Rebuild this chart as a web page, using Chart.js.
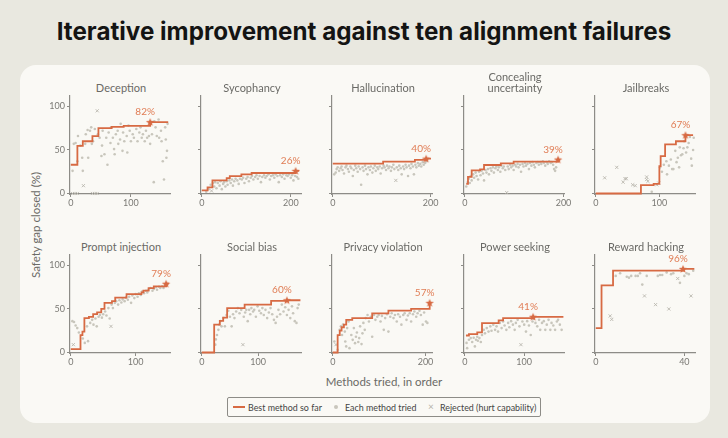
<!DOCTYPE html>
<html>
<head>
<meta charset="utf-8">
<script src="https://cdn.jsdelivr.net/npm/chart.js@4.4.1/dist/chart.umd.min.js"></script>
<style>
  body { margin: 0; width: 728px; height: 438px; background: #e9e8e0; position: relative; overflow: hidden; font-family: Lato, "Open Sans", sans-serif; }
  #title { position: absolute; left: 0; top: 15px; width: 728px; text-align: center; font-family: Inter, Lato, sans-serif; font-weight: 700; font-size: 26px; line-height: 34px; color: #141413; white-space: nowrap; }
  #card { position: absolute; left: 20px; top: 65px; width: 690px; height: 358px; background: #faf9f5; border-radius: 16px; }
  .ptitle { position: absolute; width: 140px; text-align: center; font-size: 11px; line-height: 11px; color: #6a6a66; }
  canvas { position: absolute; }
  #xtitle { position: absolute; left: 284px; width: 200px; top: 375px; text-align: center; font-size: 11.5px; color: #6a6a66; }
  #ytitle { position: absolute; left: 35px; top: 225px; transform: translate(-50%, -50%) rotate(-90deg); font-size: 11.5px; color: #6a6a66; white-space: nowrap; }
  #legend { position: absolute; left: 227px; top: 397px; width: 312px; height: 18px; border: 1px solid #8d8c87; border-radius: 2px; font-size: 8.9px; color: #444; }
  #legend span { position: absolute; top: 3.5px; white-space: nowrap; }
</style>
</head>
<body>
<div id="title">Iterative improvement against ten alignment failures</div>
<div id="card"></div>
<div id="xtitle">Methods tried, in order</div>
<div id="ytitle">Safety gap closed (%)</div>
<div id="legend">
  <div style="position:absolute;left:5px;top:8px;width:12px;height:2px;background:#d76a43"></div>
  <span style="left:20px">Best method so far</span>
  <div style="position:absolute;left:106px;top:7px;width:4px;height:4px;border-radius:2px;background:#c8c6bc"></div>
  <span style="left:117px">Each method tried</span>
  <span style="left:200px;top:2px;color:#b5b3aa;font-size:10px">×</span>
  <span style="left:212px">Rejected (hurt capability)</span>
</div>
<script>
// panel titles, in reading order
const titles = ['Deception', 'Sycophancy', 'Hallucination', 'Concealing\nuncertainty', 'Jailbreaks',
  'Prompt injection', 'Social bias', 'Privacy violation', 'Power seeking', 'Reward hacking'];
const xTicks = [[0, 100], [0, 200], [0, 200], [0, 200], [0, 100], [0, 100], [0, 100], [0, 200], [0, 100], [0, 40]];
const xMax = [165, 223, 203, 201, 156, 153, 176, 214, 167, 44.8];
const yTicks = [0, 50, 100];

// best-so-far steps [method, % closed]
const decBest = [[0, 33], [11, 54.6], [20, 60], [36, 66], [46, 75], [68, 76.5], [88, 77.7], [132, 82], [162, 82]];
const sycBest = [[0, 3.5], [13, 7], [24, 15], [56, 17.7], [63, 20], [89, 22], [112, 23.5], [211, 26], [219, 26]];
const halBest = [[0, 34.2], [103, 36.5], [168, 38.5], [191, 40], [201, 40]];
const conBest = [[3, 11], [6.5, 19], [14, 26.5], [31, 27.7], [39, 32.7], [73, 34.6], [99, 36.5], [189, 39], [191, 39]];
const jaiBest = [[0, 0], [71, 9.5], [91, 11], [100, 31.5], [102, 43], [109, 56.5], [126, 60], [141, 67], [153, 67]];
const priBest = [[0, 3.8], [15, 20], [18, 24], [21, 39.5], [28, 41], [34.5, 44], [40.6, 46], [47, 50], [52, 57], [63.5, 59],
  [68.5, 63], [86, 67], [109, 69], [112, 71], [120, 74], [128, 76], [147, 79], [151, 79]];
const socBest = [[0, 0], [22, 32], [32, 36.4], [38, 40], [45, 51], [76, 55], [123, 59.4], [151, 60], [175, 60]];
const prvBest = [[0, 0], [10.5, 20], [15, 25], [19, 29], [24, 32], [29, 37.5], [42, 39.5], [85, 45], [120, 48], [169, 50], [209, 57]];
const powBest = [[2, 19.5], [7, 21], [21, 23], [29, 33.7], [57, 36.8], [64.5, 39.5], [115, 41], [166, 41]];
const rewBest = [[0, 28], [2.6, 77], [7.8, 94], [39.4, 96], [44.5, 96]];

// every method tried [method, % closed]
const decTried = [[3, 26], [5, 57], [8, 58], [11, 37], [12, 66], [16, 55], [19, 41], [20, 26], [24, 57], [25, 68], [28, 73], [29, 41],
  [32, 72], [34, 76], [35, 57], [37, 60], [40, 74], [45, 68], [48, 64], [51, 43], [52, 55], [53, 72], [56, 45], [59, 64], [61, 33],
  [63, 70], [66, 58], [67, 76], [70, 64], [72, 51], [73, 45], [75, 68], [78, 72], [79, 57], [82, 62], [83, 80], [86, 49], [87, 70],
  [89, 60], [93, 66], [94, 47], [96, 78], [98, 72], [100, 60], [103, 68], [105, 64], [109, 74], [111, 60], [114, 70], [116, 76],
  [118, 64], [120, 68], [123, 60], [125, 72], [127, 64], [130, 66], [132, 57], [135, 68], [138, 13], [139, 83], [141, 76], [143, 66],
  [146, 85], [147, 64], [150, 72], [151, 60], [153, 37], [155, 16], [157, 76], [158, 62], [159, 41], [160, 49], [161, 80]];
const sycTried = [[10, 2], [15, 5], [20, 10], [25, 12], [28, 8], [30, 13], [33, 6], [36, 12], [40, 9], [42, 14], [45, 5], [48, 11],
  [50, 13], [53, 8], [56, 14], [58, 10], [62, 15], [65, 12], [68, 16], [70, 9], [73, 14], [76, 17], [80, 15], [83, 11], [86, 17],
  [90, 16], [93, 18], [96, 12], [100, 17], [103, 19], [106, 14], [110, 18], [113, 20], [116, 16], [120, 19], [123, 21], [126, 17],
  [130, 20], [133, 13], [136, 19], [140, 21], [143, 18], [146, 20], [150, 22], [153, 16], [156, 20], [160, 21], [163, 18], [166, 22],
  [170, 20], [173, 13], [176, 21], [180, 19], [183, 22], [186, 17], [190, 21], [193, 20], [196, 22], [200, 18], [203, 21], [206, 15],
  [210, 20], [214, 19], [217, 17]];
const halTried = [[3, 22], [6, 24], [8, 28], [10, 30], [13, 26], [16, 29], [18, 31], [20, 27], [23, 23], [26, 30], [28, 32], [31, 28],
  [33, 25], [36, 31], [38, 29], [41, 20], [43, 27], [46, 32], [48, 29], [51, 25], [53, 31], [56, 28], [58, 10], [61, 30], [63, 26],
  [66, 32], [68, 28], [71, 22], [73, 30], [76, 27], [78, 31], [81, 24], [83, 29], [86, 32], [88, 26], [91, 30], [93, 28], [96, 31],
  [98, 23], [101, 29], [104, 32], [106, 30], [109, 27], [111, 32], [114, 29], [116, 31], [119, 26], [121, 30], [124, 33], [126, 28],
  [131, 30], [134, 27], [136, 32], [139, 29], [141, 22], [144, 31], [146, 28], [149, 33], [151, 30], [154, 20], [156, 32], [159, 29],
  [161, 34], [164, 31], [166, 22], [169, 33], [171, 30], [174, 35], [176, 32], [179, 34], [181, 31], [184, 36], [186, 33], [189, 35], [192, 37]];
const conTried = [[3, 8], [6, 13], [8, 17], [10, 12], [12, 20], [14, 15], [17, 22], [19, 18], [22, 24], [24, 20], [27, 16], [29, 25],
  [32, 21], [34, 26], [37, 23], [39, 15], [42, 27], [44, 24], [47, 28], [49, 22], [52, 29], [54, 26], [57, 30], [59, 24], [62, 29],
  [64, 31], [67, 27], [69, 30], [72, 25], [74, 32], [77, 29], [79, 31], [82, 27], [87, 31], [89, 28], [92, 33], [94, 30], [97, 32],
  [99, 27], [102, 33], [104, 31], [107, 34], [109, 30], [112, 33], [114, 25], [117, 34], [119, 31], [122, 35], [124, 32], [127, 34],
  [130, 28], [132, 35], [135, 32], [137, 36], [140, 33], [142, 30], [145, 35], [148, 36], [150, 33], [153, 36], [155, 34], [158, 37],
  [160, 35], [163, 32], [166, 36], [168, 34], [171, 37], [174, 35], [176, 36], [179, 33], [181, 28], [183, 26], [185, 30]];
const jaiTried = [[88, 2], [101, 30], [104, 25], [107, 33], [111, 37], [112, 22], [115, 32], [118, 39], [120, 28], [122, 28],
  [125, 49], [127, 36], [129, 41], [131, 30], [132, 53], [134, 44], [136, 45], [138, 52], [139, 60], [142, 47], [144, 53],
  [146, 58], [148, 65], [150, 40], [151, 32], [153, 50], [154, 64]];
const priTried = [[2.5, 36], [5, 35], [7.5, 31], [10, 28], [12.5, 23], [18.6, 16], [21.6, 11], [26.6, 13], [25, 30], [30, 34],
  [33, 37.5], [35, 32], [38, 39], [40, 30], [43, 41], [45, 43], [48, 40], [50, 44], [53, 47], [55, 42.5], [58, 51], [60, 39], [63, 55],
  [65, 51], [68, 57], [70, 59], [73, 55], [75, 60], [78, 57.5], [80, 61], [83, 59], [85, 63], [88, 60.5], [90, 64], [93, 57], [95, 65.5],
  [98, 62.5], [100, 67], [103, 64], [105, 68], [108, 66], [110, 70], [113, 68], [116, 71], [118, 69], [120, 72], [123, 74], [126, 71],
  [128, 73], [131, 75], [133, 72], [136, 75.5], [138, 74], [141, 76], [143, 74], [146, 77]];
const socTried = [[24, 9], [25, 15], [27, 20], [29.5, 26], [31, 32], [33, 36], [35, 30], [38, 39.5], [41, 30], [44, 43], [47, 48],
  [50, 41], [53, 30], [55.5, 44], [58, 39.5], [61, 47], [64, 51], [67, 45], [70, 49], [74.5, 41], [77, 46], [79, 49], [81.5, 36],
  [84, 49], [86, 44], [88, 51], [91, 47], [93, 49], [96, 41], [99, 53], [102, 48], [105, 45], [107.5, 51], [110, 43], [113, 49],
  [116, 39.5], [119, 46], [122, 51], [125, 44], [128, 37.5], [131, 34], [133.5, 41], [136, 49], [139, 44], [142, 55], [145, 47],
  [148, 52], [151, 43], [154, 49], [157, 39.5], [160, 53], [162, 45], [165, 36], [168, 34], [170, 51], [172, 55]];
const prvTried = [[3.5, 12.6], [10.5, 3], [15, 26], [17.5, 30], [20, 20], [22, 32], [26, 24], [27, 12.6], [29, 7], [31, 28], [34, 35.6],
  [36, 5], [40, 20], [43, 14.5], [45.5, 28], [48, 10.7], [50, 18], [52, 23], [55, 12], [57, 16.5], [59, 30], [62, 9.6], [64, 22],
  [66, 34], [69, 26], [71, 39.5], [75, 43], [78, 35.6], [82, 41], [85, 18], [89, 43], [92, 37.5], [96, 41], [99, 43], [103, 35.6],
  [106, 42], [110, 26], [113, 39.5], [117, 44], [120, 24], [124, 41], [127, 45], [131, 39.5], [134, 43], [138, 35.6], [141, 44],
  [145, 41], [148, 32], [152, 43], [155, 45], [159, 37.5], [162, 42.5], [166, 45], [169, 35.6], [173, 44], [176, 47], [180, 41],
  [183, 45], [187, 48], [190, 43], [194, 32], [197, 46], [201, 35.6], [204, 34]];
const powTried = [[3, 11], [4, 5], [7, 14.6], [10, 16.5], [12.5, 12], [15, 17], [17, 7], [19, 14.6], [21, 18], [22, 13.4], [24.6, 16.5],
  [27, 12], [29, 20], [32, 26], [34, 22], [37, 28], [40, 24], [43, 30], [45, 25], [48, 32], [51, 26], [53.5, 30], [56, 24], [59, 34],
  [62, 28], [64.5, 35.6], [67, 31], [70, 26], [73, 34], [75, 29], [78, 36], [81, 32], [84, 26], [86, 34], [89, 37.5], [92, 30],
  [97, 35.6], [100, 32], [103, 24], [105, 36], [108, 31], [111, 20], [114, 35.6], [116, 38.7], [119, 34], [122, 30], [125, 37.5],
  [127, 26], [130, 34], [133, 36], [135.5, 26], [138, 32], [141, 37.5], [144, 26], [146, 34], [149, 31], [152, 26], [155, 35.6],
  [157, 37.5], [160, 32], [163, 26]];
const rewTried = [[9, 88], [11, 91], [14, 87], [15, 86], [16, 88], [18, 88], [19, 88], [20, 91], [21, 78], [23, 88], [28, 88],
  [29, 89], [30, 89], [32, 92], [34, 90], [35, 91], [38, 80], [40, 88], [41, 91], [42, 90], [44, 94]];

// rejected because they hurt capability [method, % closed]
const decRejected = [[3, 0], [7, 0], [11, 0], [36, 0], [40, 0], [44, 0], [21, 9], [44, 95]];
const sycRejected = [[22, 3]];
const halRejected = [[129, 15]];
const conRejected = [[85, 1]];
const jaiRejected = [[14, 18], [33, 30], [43, 13], [46, 17], [48, 17], [58, 10], [62, 9], [80, 19], [80, 16], [82, 14], [96, 10], [99, 12]];
const priRejected = [[4, 9], [62, 30]];
const socRejected = [[73, 9]];
const prvRejected = [[7, 9]];
const powRejected = [[94.5, 9]];
const rewRejected = [[6.5, 42], [7.2, 38], [22, 65], [27, 55], [33, 50], [37, 85], [43, 65]];

const best = [decBest, sycBest, halBest, conBest, jaiBest, priBest, socBest, prvBest, powBest, rewBest];
const tried = [decTried, sycTried, halTried, conTried, jaiTried, priTried, socTried, prvTried, powTried, rewTried];
const rejected = [decRejected, sycRejected, halRejected, conRejected, jaiRejected, priRejected, socRejected, prvRejected, powRejected, rewRejected];

const orange = '#d76a43';
const axisColor = '#8d8c87';
const font = 'Lato, "Open Sans", sans-serif';
const areaLeft = [70, 201, 332, 464, 595];
const areaTop = [96, 255];

// fit the headline to the reference width
(function () {
  const t = document.getElementById('title');
  const c = document.createElement('canvas').getContext('2d');
  c.font = '700 26px Inter, Lato, sans-serif';
  const w = c.measureText(t.textContent).width;
  t.style.fontSize = (26 * 615 / w).toFixed(2) + 'px';
})();

// filled five-point star used as the point style of the best point
const starImg = document.createElement('canvas');
starImg.width = 10; starImg.height = 10;
(function () {
  const g = starImg.getContext('2d');
  g.fillStyle = orange;
  g.beginPath();
  for (let k = 0; k < 10; k++) {
    const r = k % 2 === 0 ? 4.4 : 1.9;
    const a = -Math.PI / 2 + k * Math.PI / 5;
    g.lineTo(5 + r * Math.cos(a), 5.3 + r * Math.sin(a));
  }
  g.closePath();
  g.fill();
})();

const pctLabel = {
  id: 'pctLabel',
  afterDatasetsDraw(chart) {
    const pt = chart.getDatasetMeta(1).data[0];
    const v = chart.data.datasets[1].data[0].y;
    const ctx = chart.ctx;
    ctx.save();
    ctx.font = '10px ' + font;
    ctx.fillStyle = '#e07d55';
    ctx.textAlign = 'center';
    ctx.textBaseline = 'middle';
    ctx.fillText(Math.round(v) + '%', pt.x - 5, pt.y - 10);
    ctx.restore();
  }
};

const toXY = arr => arr.map(p => ({ x: p[0], y: p[1] }));

for (let i = 0; i < 10; i++) {
  const col = i % 5, row = Math.floor(i / 5);
  const left = areaLeft[col] - 30, top = areaTop[row] - 8;

  const tl = document.createElement('div');
  tl.className = 'ptitle';
  const lines = titles[i].split('\n');
  tl.innerHTML = lines.join('<br>');
  tl.style.left = (areaLeft[col] + 51 - 70) + 'px';
  tl.style.top = (areaTop[row] - 14 - (lines.length - 1) * 11) + 'px';
  document.body.appendChild(tl);

  const cv = document.createElement('canvas');
  cv.width = 143; cv.height = 128;
  cv.style.left = left + 'px';
  cv.style.top = top + 'px';
  document.body.appendChild(cv);

  const b = best[i];
  const topVal = Math.max(...b.map(p => p[1]));
  const starPt = b.find(p => p[1] === topVal);
  const xt = xTicks[i];

  new Chart(cv, {
    type: 'scatter',
    data: {
      datasets: [
        { type: 'line', data: toXY(b), stepped: true, borderColor: orange, borderWidth: 1.8, pointRadius: 0, fill: false, clip: false },
        { data: toXY([starPt]), pointStyle: starImg, pointRadius: 5, clip: false },
        { data: toXY(tried[i]), pointStyle: 'circle', pointRadius: 1.3, backgroundColor: '#c8c6bc', borderWidth: 0, clip: false },
        { data: toXY(rejected[i]), pointStyle: 'crossRot', pointRadius: 2.2, borderColor: '#b9b7ae', borderWidth: 0.9, clip: false }
      ]
    },
    options: {
      responsive: false,
      animation: false,
      events: [],
      layout: { padding: { left: 0, top: 8, right: 13, bottom: 0 } },
      plugins: { legend: { display: false }, tooltip: { enabled: false } },
      scales: {
        x: {
          type: 'linear',
          min: -0.8 * xMax[i] / 103,
          max: xMax[i],
          afterBuildTicks: s => { s.ticks = xt.map(v => ({ value: v })); },
          afterFit: s => { s.height = 22; },
          ticks: { font: { size: 9, family: font }, color: '#7a7974', padding: 1, maxRotation: 0, autoSkip: false },
          grid: { drawOnChartArea: false, drawTicks: true, tickLength: 3, color: axisColor },
          border: { color: axisColor, width: 1.2 }
        },
        y: {
          min: -0.6,
          max: 112,
          afterBuildTicks: s => { s.ticks = yTicks.map(v => ({ value: v })); },
          afterFit: s => { s.width = 30; },
          ticks: { font: { size: 9, family: font }, color: '#7a7974', padding: 2, callback: v => (col === 0 ? v : '') },
          grid: { drawOnChartArea: false, drawTicks: true, tickLength: 3, color: axisColor },
          border: { color: axisColor, width: 1.2 }
        }
      }
    },
    plugins: [pctLabel]
  });
}
</script>
</body>
</html>
